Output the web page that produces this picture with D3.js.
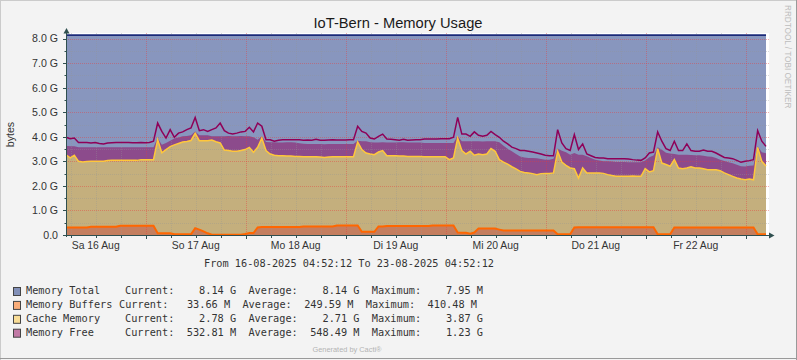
<!DOCTYPE html>
<html><head><meta charset="utf-8">
<script src="https://cdn.jsdelivr.net/npm/d3@7"></script>
<style>
html,body{margin:0;padding:0;background:#F3F3F3;}
svg{display:block;}
.pre{white-space:pre;}
</style>
</head><body>
<svg id="chart" width="797" height="360"></svg>
<script>
// ---- data (GB, hourly samples from start) ----
const startTime = Date.UTC(2025, 7, 16, 4, 52, 12);
const endTime = Date.UTC(2025, 7, 23, 4, 52, 12);
const stepHours = 1;
const memTotal = 8.14;

const buffers = [
0.31,0.31,0.31,0.31,0.31,0.31,0.34,0.34,0.34,0.34,0.34,0.34,0.34,0.38,0.38,0.38,0.38,0.38,0.38,0.38,
0.38,0.38,0.07,0.07,0.07,0.07,0.03,0.03,0.03,0.03,0.03,0.28,0.22,0.15,0.07,0.01,0.01,0.01,0.01,0.01,
0.01,0.01,0.01,0.04,0.08,0.08,0.31,0.33,0.33,0.33,0.33,0.33,0.33,0.33,0.33,0.33,0.33,0.35,0.35,0.35,
0.35,0.35,0.35,0.35,0.35,0.39,0.39,0.39,0.39,0.39,0.39,0.13,0.13,0.13,0.13,0.35,0.35,0.37,0.37,0.37,
0.37,0.37,0.37,0.37,0.37,0.37,0.37,0.37,0.39,0.39,0.39,0.39,0.39,0.39,0.10,0.09,0.09,0.05,0.10,0.26,
0.26,0.26,0.26,0.26,0.22,0.18,0.18,0.18,0.18,0.18,0.18,0.18,0.18,0.18,0.18,0.18,0.18,0.18,0.03,0.03,
0.03,0.03,0.31,0.32,0.32,0.32,0.32,0.32,0.32,0.32,0.32,0.32,0.32,0.32,0.32,0.32,0.32,0.32,0.32,0.32,
0.32,0.32,0.03,0.03,0.03,0.03,0.31,0.31,0.31,0.31,0.31,0.31,0.31,0.31,0.31,0.31,0.31,0.31,0.31,0.31,
0.31,0.31,0.31,0.31,0.31,0.31,0.03,0.03,0.03];

const cache = [
2.96,2.83,2.94,2.69,2.66,2.68,2.66,2.66,2.66,2.66,2.69,2.70,2.70,2.66,2.66,2.66,2.66,2.66,2.69,2.69,
2.69,2.69,3.81,3.28,3.41,3.53,3.64,3.70,3.76,3.78,3.82,3.86,3.62,3.69,3.77,3.86,3.79,3.74,3.45,3.43,
3.40,3.40,3.43,3.44,3.49,3.29,3.26,3.62,3.11,2.97,2.92,2.90,2.90,2.89,2.89,2.87,2.87,2.84,2.84,2.84,
2.84,2.83,2.81,2.83,2.84,2.80,2.80,2.80,2.80,2.80,3.40,3.35,3.21,3.17,3.14,3.03,3.09,2.86,2.86,2.86,
2.85,2.85,2.83,2.83,2.83,2.83,2.82,2.82,2.80,2.80,2.80,2.80,2.68,2.75,3.85,3.35,3.21,3.36,3.15,3.04,
3.01,3.04,3.26,3.15,2.85,2.79,2.71,2.60,2.51,2.41,2.37,2.35,2.32,2.28,2.32,2.33,2.33,2.35,3.38,2.94,
2.81,2.70,2.39,2.00,2.41,2.21,2.21,2.21,2.21,2.19,2.14,2.10,2.07,2.07,2.07,2.07,2.08,2.07,2.07,2.38,
2.25,2.30,3.49,2.90,2.84,2.77,2.76,2.42,2.39,2.42,2.47,2.42,2.42,2.39,2.35,2.35,2.35,2.31,2.22,2.15,
2.08,2.01,1.97,1.94,1.97,1.94,3.54,2.97,2.78];

const free = [
0.37,0.48,0.37,0.57,0.60,0.58,0.57,0.57,0.57,0.57,0.54,0.53,0.53,0.53,0.53,0.53,0.53,0.53,0.50,0.50,
0.50,0.50,0.07,0.33,0.27,0.24,0.26,0.24,0.23,0.22,0.21,0.08,0.22,0.22,0.22,0.15,0.22,0.27,0.56,0.59,
0.61,0.61,0.59,0.54,0.45,0.61,0.31,0.07,0.35,0.48,0.53,0.54,0.54,0.56,0.56,0.57,0.54,0.53,0.52,0.52,
0.52,0.53,0.54,0.53,0.52,0.52,0.52,0.52,0.52,0.52,0.05,0.34,0.48,0.48,0.50,0.39,0.34,0.54,0.54,0.54,
0.56,0.56,0.57,0.57,0.57,0.57,0.56,0.56,0.56,0.56,0.56,0.56,0.68,0.61,0.07,0.38,0.52,0.41,0.57,0.52,
0.54,0.52,0.30,0.41,0.71,0.67,0.62,0.63,0.61,0.61,0.61,0.61,0.64,0.67,0.60,0.56,0.56,0.58,0.11,0.46,
0.53,0.54,0.64,0.95,0.54,0.68,0.61,0.54,0.50,0.49,0.54,0.57,0.58,0.58,0.58,0.57,0.56,0.57,0.57,0.33,
0.60,0.62,0.05,0.54,0.48,0.52,0.23,0.54,0.57,0.54,0.48,0.52,0.52,0.53,0.54,0.53,0.48,0.45,0.48,0.50,
0.53,0.54,0.52,0.54,0.54,0.58,0.05,0.37,0.52];

// magenta outline level (absolute GB)
const freeOutline = [
3.98,3.92,3.95,3.77,3.77,3.77,3.75,3.77,3.73,3.71,3.75,3.76,3.77,3.77,3.77,3.77,3.76,3.76,3.77,3.76,
3.77,3.82,4.56,4.22,3.95,4.29,3.98,4.15,4.20,4.29,4.36,4.79,4.25,4.29,4.22,4.29,4.36,4.56,4.25,4.15,
4.11,4.15,4.20,4.22,4.39,4.20,4.56,4.43,3.88,3.88,3.82,3.86,3.88,3.88,3.88,3.88,3.88,3.86,3.87,3.86,
3.90,3.86,3.86,3.87,3.88,3.87,3.87,3.87,3.88,3.88,4.43,4.22,4.15,3.95,3.91,4.02,4.11,3.91,3.90,3.88,
3.86,3.90,3.86,3.87,3.88,3.88,3.91,3.91,3.91,3.91,3.92,3.92,3.92,3.98,4.79,4.11,4.11,4.02,4.20,4.06,
4.02,4.06,4.22,4.09,3.98,3.82,3.71,3.58,3.52,3.44,3.44,3.41,3.38,3.34,3.30,3.25,3.23,3.23,4.29,3.75,
3.52,3.44,4.09,3.48,3.71,3.30,3.23,3.16,3.14,3.14,3.11,3.11,3.11,3.11,3.11,3.10,3.07,3.05,3.04,3.14,
3.34,3.38,4.20,3.82,3.52,3.44,3.82,3.44,3.44,3.71,3.44,3.41,3.41,3.46,3.41,3.41,3.34,3.25,3.16,3.14,
3.11,3.04,2.96,3.00,3.03,3.07,4.25,3.82,3.61];

const yTickLabels = ["0.0","1.0 G","2.0 G","3.0 G","4.0 G","5.0 G","6.0 G","7.0 G","8.0 G"];
const dayLabels = ["Sa 16 Aug","So 17 Aug","Mo 18 Aug","Di 19 Aug","Mi 20 Aug","Do 21 Aug","Fr 22 Aug"];
const legendNames = ["Memory Total","Memory Buffers","Cache Memory","Memory Free"];
const legendCurrent = ["8.14 G","33.66 M","2.78 G","532.81 M"];
const legendAverage = ["8.14 G","249.59 M","2.71 G","548.49 M"];
const legendMaximum = ["7.95 M","410.48 M","3.87 G","1.23 G"];

// ---- drawing ----
const svg = d3.select("#chart");
const W = 797, H = 360;
const X0 = 66, X1 = 766, YB = 235;
const x = d3.scaleUtc().domain([new Date(startTime), new Date(endTime)]).range([X0, X1]);
const y = d3.scaleLinear().domain([0, 8]).range([YB, 38.6]);
const times = buffers.map((_, i) => new Date(startTime + i * stepHours * 3600e3));

svg.append("rect").attr("width", W).attr("height", H).attr("fill", "#F3F3F3");
// frame
svg.append("line").attr("x1",0).attr("x2",W).attr("y1",0.5).attr("y2",0.5).attr("stroke","#CBCBCB");
svg.append("line").attr("x1",0.5).attr("x2",0.5).attr("y1",0).attr("y2",H).attr("stroke","#CBCBCB");
svg.append("line").attr("x1",0).attr("x2",W).attr("y1",358.5).attr("y2",358.5).attr("stroke","#999999");
svg.append("line").attr("x1",796.5).attr("x2",796.5).attr("y1",0).attr("y2",H).attr("stroke","#999999");

// canvas
svg.append("rect").attr("x", X0).attr("y", 33).attr("width", 703).attr("height", YB - 33).attr("fill", "#FFFFFF");

// total area
const totalArea = d3.area().x(d => x(d)).y0(y(0)).y1(y(memTotal));
svg.append("path").datum([new Date(startTime), new Date(endTime)])
  .attr("d", totalArea).attr("fill", "rgba(17,45,125,0.5)");

// stacked areas
const rows = times.map((t, i) => ({ t, buffers: buffers[i], cache: cache[i], free: free[i] }));
const stacked = d3.stack().keys(["buffers", "cache", "free"])(rows);
const area = d3.area().x((d, i) => x(times[i])).y0(d => y(d[0])).y1(d => y(d[1]));
const fills = ["rgba(255,102,0,0.5)", "rgba(255,199,59,0.5)", "rgba(144,0,90,0.5)"];
stacked.forEach((s, k) => {
  svg.append("path").datum(s).attr("d", area).attr("fill", fills[k]);
});

// grid
const gridG = svg.append("g").attr("shape-rendering", "crispEdges");
const yMinor = y.ticks(16).filter(v => v % 1 !== 0);
const yMajor = y.ticks(8).filter(v => v > 0);
const hourLines = d3.utcHour.every(6).range(new Date(startTime), new Date(endTime));
const dayLines = d3.utcDay.range(new Date(startTime), new Date(endTime + 1));
const minorCol = "rgba(150,150,150,0.35)", majorCol = "rgba(230,60,60,0.42)";
yMinor.forEach(v => gridG.append("line").attr("x1", X0).attr("x2", 769)
  .attr("y1", Math.round(y(v)) + 0.5).attr("y2", Math.round(y(v)) + 0.5)
  .attr("stroke", minorCol).attr("stroke-dasharray", "1,1"));
hourLines.filter(t => t.getUTCHours() !== 0).forEach(t => gridG.append("line")
  .attr("x1", Math.round(x(t)) + 0.5).attr("x2", Math.round(x(t)) + 0.5)
  .attr("y1", 33).attr("y2", YB).attr("stroke", minorCol).attr("stroke-dasharray", "1,1"));
yMajor.forEach(v => gridG.append("line").attr("x1", X0).attr("x2", 769)
  .attr("y1", Math.round(y(v)) + 0.5).attr("y2", Math.round(y(v)) + 0.5)
  .attr("stroke", majorCol).attr("stroke-dasharray", "1,1"));
dayLines.forEach(t => gridG.append("line")
  .attr("x1", Math.round(x(t)) + 0.5).attr("x2", Math.round(x(t)) + 0.5)
  .attr("y1", 33).attr("y2", YB).attr("stroke", majorCol).attr("stroke-dasharray", "1,1"));

// lines
const lineGen = d3.line().x((d, i) => x(times[i]));
svg.append("path").datum(stacked[0]).attr("d", lineGen.y(d => y(d[1])))
  .attr("fill", "none").attr("stroke", "#FF6600").attr("stroke-width", 2);
svg.append("path").datum(stacked[1]).attr("d", lineGen.y(d => y(d[1])))
  .attr("fill", "none").attr("stroke", "#FFC73B").attr("stroke-width", 1.5);
svg.append("path").datum(freeOutline).attr("d", lineGen.y(d => y(d)))
  .attr("fill", "none").attr("stroke", "#8F0058").attr("stroke-width", 1.5);
svg.append("path").datum([new Date(startTime), new Date(endTime)])
  .attr("d", d3.line().x(d => x(d)).y(y(memTotal)))
  .attr("fill", "none").attr("stroke", "#1B2A78").attr("stroke-width", 1.6);

// axes
const axisCol = "#2F4F4F";
svg.append("line").attr("x1", 66.5).attr("x2", 66.5).attr("y1", YB + 2).attr("y2", 31).attr("stroke", axisCol);
svg.append("line").attr("x1", 63).attr("x2", 770).attr("y1", YB + 0.5).attr("y2", YB + 0.5).attr("stroke", axisCol);
svg.append("path").attr("d", "M63.5,33.5 L69.5,33.5 L66.5,28 Z").attr("fill", axisCol);
svg.append("path").attr("d", "M769,232.5 L769,238.5 L774.5,235.5 Z").attr("fill", axisCol);
// ticks
yMajor.forEach(v => svg.append("line").attr("x1", 63).attr("x2", 66)
  .attr("y1", Math.round(y(v)) + 0.5).attr("y2", Math.round(y(v)) + 0.5).attr("stroke", axisCol));
yMinor.forEach(v => svg.append("line").attr("x1", 64.5).attr("x2", 66)
  .attr("y1", Math.round(y(v)) + 0.5).attr("y2", Math.round(y(v)) + 0.5).attr("stroke", axisCol));
hourLines.forEach(t => svg.append("line").attr("x1", Math.round(x(t)) + 0.5).attr("x2", Math.round(x(t)) + 0.5)
  .attr("y1", YB + 1).attr("y2", YB + (t.getUTCHours() === 0 ? 4 : 3)).attr("stroke", axisCol));

// texts
const sans = "'Liberation Sans', Arial, sans-serif";
const mono = "'DejaVu Sans Mono', monospace";
svg.append("text").attr("x", 398).attr("y", 27.5).attr("text-anchor", "middle")
  .attr("font-family", sans).attr("font-size", 14.7).attr("fill", "#1A1A1A").text("IoT-Bern - Memory Usage");

y.ticks(8).forEach((v, i) => svg.append("text").attr("x", 58).attr("y", y(v) + 3.8)
  .attr("text-anchor", "end").attr("font-family", sans).attr("font-size", 10.6).attr("fill", "#333")
  .text(yTickLabels[i]));

svg.append("text").attr("transform", "translate(14,134.5) rotate(-90)").attr("text-anchor", "middle")
  .attr("font-family", sans).attr("font-size", 10.6).attr("fill", "#333").text("bytes");

const noons = d3.utcDay.range(new Date(startTime - 86400e3), new Date(endTime))
  .map(d => new Date(+d + 12 * 3600e3)).filter(d => +d > startTime && +d < endTime);
noons.forEach((d, i) => svg.append("text").attr("x", x(d)).attr("y", 249.2)
  .attr("text-anchor", "middle").attr("font-family", sans).attr("font-size", 10.4).attr("fill", "#333")
  .text(dayLabels[i]));

svg.append("text").attr("class", "pre").attr("x", 204).attr("y", 266.5)
  .attr("font-family", mono).attr("font-size", 10.25).attr("fill", "#333")
  .text("From 16-08-2025 04:52:12 To 23-08-2025 04:52:12");

const boxFills = ["#8290B8", "#F9AD7A", "#F9DD97", "#C27AA6"];
const statX = [125, 119, 125, 125];
const pad = (s, n) => " ".repeat(Math.max(0, n - s.length)) + s;
legendNames.forEach((name, i) => {
  const by = 294 + i * 13.9;
  svg.append("rect").attr("x", 13.5).attr("y", by - 6.5).attr("width", 7).attr("height", 8)
    .attr("fill", boxFills[i]).attr("stroke", "#444");
  svg.append("text").attr("class", "pre").attr("x", 26).attr("y", by)
    .attr("font-family", mono).attr("font-size", 10.25).attr("fill", "#333").text(name);
  const stat = "Current:" + pad(legendCurrent[i], 10) + "  Average:" + pad(legendAverage[i], 10) +
    "  Maximum:" + pad(legendMaximum[i], 10);
  svg.append("text").attr("class", "pre").attr("x", statX[i]).attr("y", by)
    .attr("font-family", mono).attr("font-size", 10.25).attr("fill", "#333").text(stat);
});

svg.append("text").attr("x", 347).attr("y", 351.5).attr("text-anchor", "middle")
  .attr("font-family", sans).attr("font-size", 7.4).attr("fill", "#B4B4B4").text("Generated by Cacti®");

svg.append("text").attr("transform", "translate(784.5,5) rotate(90)")
  .attr("font-family", sans).attr("font-size", 8.2).attr("fill", "#BDBDBD").text("RRDTOOL / TOBI OETIKER");
</script>
</body></html>
